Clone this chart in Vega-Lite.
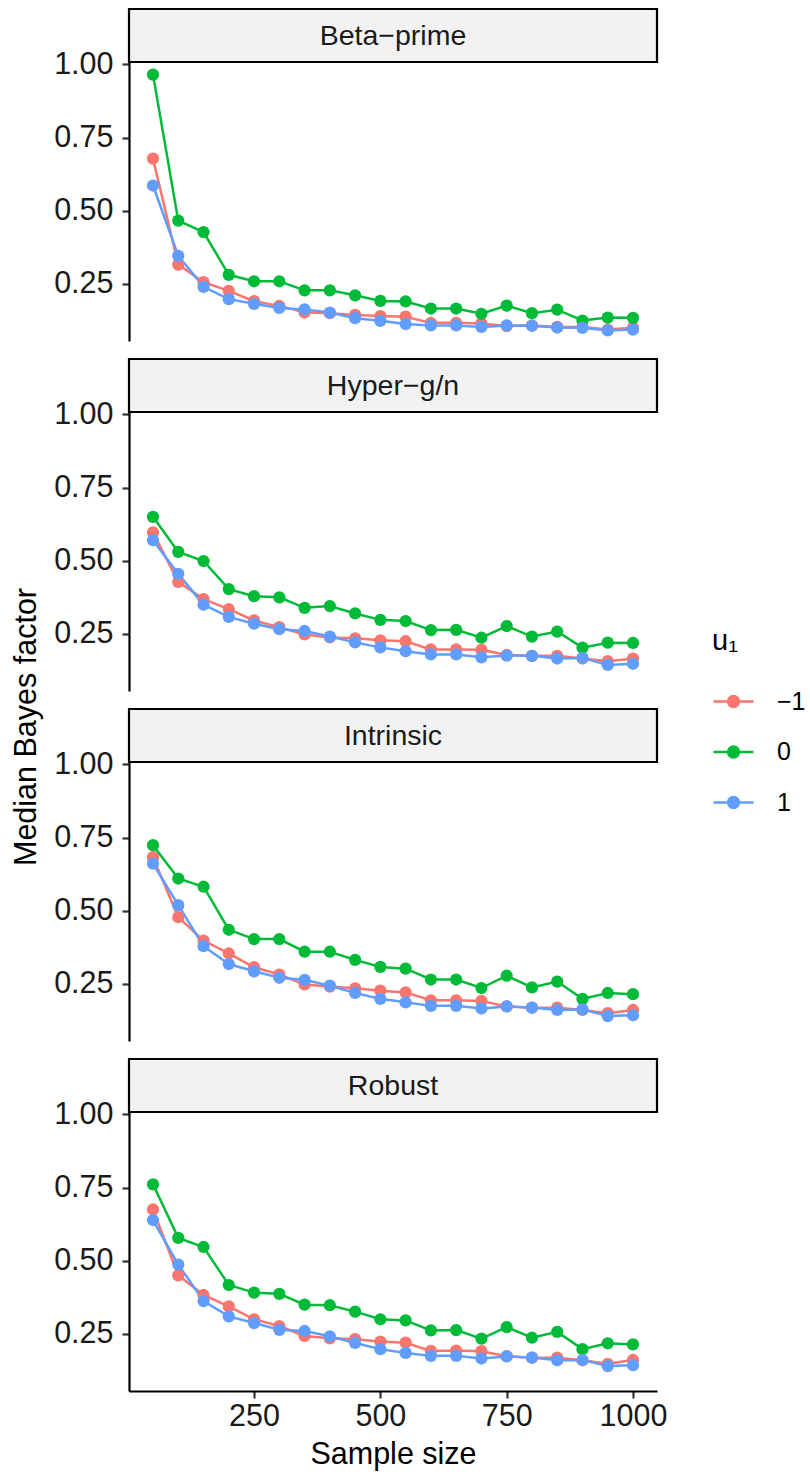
{
  "$schema": "https://vega.github.io/schema/vega-lite/v6.json",
  "autosize": {"type": "pad"},
  "padding": {"left": 12, "top": 7, "right": 5, "bottom": 5},
  "background": "white",
  "title": {"text": "Median Bayes factor", "orient": "left", "anchor": "middle", "frame": "group", "fontSize": 30.5, "fontWeight": "normal", "font": "Liberation Sans", "color": "#000000", "offset": 11, "dx": -718},
  "config": {
    "font": "Liberation Sans",
    "view": {"stroke": null},
    "axis": {
      "grid": false, "domainColor": "#000000", "domainWidth": 2.2,
      "tickColor": "#333333", "tickWidth": 2.2, "tickSize": 7,
      "labelFont": "Liberation Sans", "labelFontSize": 30.5, "labelColor": "#1a1a1a",
      "labelFlush": false, "labelOverlap": false,
      "titleFont": "Liberation Sans", "titleFontSize": 30.5, "titleFontWeight": "normal", "titleColor": "#000000"
    },
    "legend": {
      "labelFont": "Liberation Sans", "titleFont": "Liberation Sans"
    }
  },
  "datasets": {
    "strips": [{"prior": "Beta−prime"}, {"prior": "Hyper−g/n"}, {"prior": "Intrinsic"}, {"prior": "Robust"}],
    "bf": [
      {"prior":"Beta−prime","u":"−1","n":50,"bf":0.678},{"prior":"Beta−prime","u":"−1","n":100,"bf":0.316},{"prior":"Beta−prime","u":"−1","n":150,"bf":0.256},{"prior":"Beta−prime","u":"−1","n":200,"bf":0.226},{"prior":"Beta−prime","u":"−1","n":250,"bf":0.191},{"prior":"Beta−prime","u":"−1","n":300,"bf":0.175},{"prior":"Beta−prime","u":"−1","n":350,"bf":0.153},{"prior":"Beta−prime","u":"−1","n":400,"bf":0.150},{"prior":"Beta−prime","u":"−1","n":450,"bf":0.144},{"prior":"Beta−prime","u":"−1","n":500,"bf":0.140},{"prior":"Beta−prime","u":"−1","n":550,"bf":0.138},{"prior":"Beta−prime","u":"−1","n":600,"bf":0.117},{"prior":"Beta−prime","u":"−1","n":650,"bf":0.117},{"prior":"Beta−prime","u":"−1","n":700,"bf":0.115},{"prior":"Beta−prime","u":"−1","n":750,"bf":0.106},{"prior":"Beta−prime","u":"−1","n":800,"bf":0.108},{"prior":"Beta−prime","u":"−1","n":850,"bf":0.103},{"prior":"Beta−prime","u":"−1","n":900,"bf":0.103},{"prior":"Beta−prime","u":"−1","n":950,"bf":0.094},{"prior":"Beta−prime","u":"−1","n":1000,"bf":0.100},
      {"prior":"Beta−prime","u":"0","n":50,"bf":0.965},{"prior":"Beta−prime","u":"0","n":100,"bf":0.466},{"prior":"Beta−prime","u":"0","n":150,"bf":0.427},{"prior":"Beta−prime","u":"0","n":200,"bf":0.281},{"prior":"Beta−prime","u":"0","n":250,"bf":0.259},{"prior":"Beta−prime","u":"0","n":300,"bf":0.259},{"prior":"Beta−prime","u":"0","n":350,"bf":0.228},{"prior":"Beta−prime","u":"0","n":400,"bf":0.228},{"prior":"Beta−prime","u":"0","n":450,"bf":0.211},{"prior":"Beta−prime","u":"0","n":500,"bf":0.192},{"prior":"Beta−prime","u":"0","n":550,"bf":0.190},{"prior":"Beta−prime","u":"0","n":600,"bf":0.166},{"prior":"Beta−prime","u":"0","n":650,"bf":0.166},{"prior":"Beta−prime","u":"0","n":700,"bf":0.148},{"prior":"Beta−prime","u":"0","n":750,"bf":0.176},{"prior":"Beta−prime","u":"0","n":800,"bf":0.150},{"prior":"Beta−prime","u":"0","n":850,"bf":0.162},{"prior":"Beta−prime","u":"0","n":900,"bf":0.125},{"prior":"Beta−prime","u":"0","n":950,"bf":0.135},{"prior":"Beta−prime","u":"0","n":1000,"bf":0.134},
      {"prior":"Beta−prime","u":"1","n":50,"bf":0.586},{"prior":"Beta−prime","u":"1","n":100,"bf":0.346},{"prior":"Beta−prime","u":"1","n":150,"bf":0.240},{"prior":"Beta−prime","u":"1","n":200,"bf":0.198},{"prior":"Beta−prime","u":"1","n":250,"bf":0.182},{"prior":"Beta−prime","u":"1","n":300,"bf":0.168},{"prior":"Beta−prime","u":"1","n":350,"bf":0.163},{"prior":"Beta−prime","u":"1","n":400,"bf":0.152},{"prior":"Beta−prime","u":"1","n":450,"bf":0.133},{"prior":"Beta−prime","u":"1","n":500,"bf":0.124},{"prior":"Beta−prime","u":"1","n":550,"bf":0.113},{"prior":"Beta−prime","u":"1","n":600,"bf":0.108},{"prior":"Beta−prime","u":"1","n":650,"bf":0.108},{"prior":"Beta−prime","u":"1","n":700,"bf":0.103},{"prior":"Beta−prime","u":"1","n":750,"bf":0.108},{"prior":"Beta−prime","u":"1","n":800,"bf":0.107},{"prior":"Beta−prime","u":"1","n":850,"bf":0.101},{"prior":"Beta−prime","u":"1","n":900,"bf":0.100},{"prior":"Beta−prime","u":"1","n":950,"bf":0.091},{"prior":"Beta−prime","u":"1","n":1000,"bf":0.094},
      {"prior":"Hyper−g/n","u":"−1","n":50,"bf":0.597},{"prior":"Hyper−g/n","u":"−1","n":100,"bf":0.428},{"prior":"Hyper−g/n","u":"−1","n":150,"bf":0.369},{"prior":"Hyper−g/n","u":"−1","n":200,"bf":0.335},{"prior":"Hyper−g/n","u":"−1","n":250,"bf":0.296},{"prior":"Hyper−g/n","u":"−1","n":300,"bf":0.273},{"prior":"Hyper−g/n","u":"−1","n":350,"bf":0.248},{"prior":"Hyper−g/n","u":"−1","n":400,"bf":0.238},{"prior":"Hyper−g/n","u":"−1","n":450,"bf":0.235},{"prior":"Hyper−g/n","u":"−1","n":500,"bf":0.228},{"prior":"Hyper−g/n","u":"−1","n":550,"bf":0.225},{"prior":"Hyper−g/n","u":"−1","n":600,"bf":0.197},{"prior":"Hyper−g/n","u":"−1","n":650,"bf":0.197},{"prior":"Hyper−g/n","u":"−1","n":700,"bf":0.196},{"prior":"Hyper−g/n","u":"−1","n":750,"bf":0.178},{"prior":"Hyper−g/n","u":"−1","n":800,"bf":0.175},{"prior":"Hyper−g/n","u":"−1","n":850,"bf":0.175},{"prior":"Hyper−g/n","u":"−1","n":900,"bf":0.166},{"prior":"Hyper−g/n","u":"−1","n":950,"bf":0.157},{"prior":"Hyper−g/n","u":"−1","n":1000,"bf":0.166},
      {"prior":"Hyper−g/n","u":"0","n":50,"bf":0.650},{"prior":"Hyper−g/n","u":"0","n":100,"bf":0.530},{"prior":"Hyper−g/n","u":"0","n":150,"bf":0.499},{"prior":"Hyper−g/n","u":"0","n":200,"bf":0.403},{"prior":"Hyper−g/n","u":"0","n":250,"bf":0.379},{"prior":"Hyper−g/n","u":"0","n":300,"bf":0.375},{"prior":"Hyper−g/n","u":"0","n":350,"bf":0.339},{"prior":"Hyper−g/n","u":"0","n":400,"bf":0.345},{"prior":"Hyper−g/n","u":"0","n":450,"bf":0.320},{"prior":"Hyper−g/n","u":"0","n":500,"bf":0.298},{"prior":"Hyper−g/n","u":"0","n":550,"bf":0.294},{"prior":"Hyper−g/n","u":"0","n":600,"bf":0.263},{"prior":"Hyper−g/n","u":"0","n":650,"bf":0.264},{"prior":"Hyper−g/n","u":"0","n":700,"bf":0.237},{"prior":"Hyper−g/n","u":"0","n":750,"bf":0.277},{"prior":"Hyper−g/n","u":"0","n":800,"bf":0.241},{"prior":"Hyper−g/n","u":"0","n":850,"bf":0.258},{"prior":"Hyper−g/n","u":"0","n":900,"bf":0.203},{"prior":"Hyper−g/n","u":"0","n":950,"bf":0.220},{"prior":"Hyper−g/n","u":"0","n":1000,"bf":0.219},
      {"prior":"Hyper−g/n","u":"1","n":50,"bf":0.570},{"prior":"Hyper−g/n","u":"1","n":100,"bf":0.455},{"prior":"Hyper−g/n","u":"1","n":150,"bf":0.350},{"prior":"Hyper−g/n","u":"1","n":200,"bf":0.308},{"prior":"Hyper−g/n","u":"1","n":250,"bf":0.285},{"prior":"Hyper−g/n","u":"1","n":300,"bf":0.266},{"prior":"Hyper−g/n","u":"1","n":350,"bf":0.260},{"prior":"Hyper−g/n","u":"1","n":400,"bf":0.241},{"prior":"Hyper−g/n","u":"1","n":450,"bf":0.221},{"prior":"Hyper−g/n","u":"1","n":500,"bf":0.204},{"prior":"Hyper−g/n","u":"1","n":550,"bf":0.191},{"prior":"Hyper−g/n","u":"1","n":600,"bf":0.180},{"prior":"Hyper−g/n","u":"1","n":650,"bf":0.180},{"prior":"Hyper−g/n","u":"1","n":700,"bf":0.170},{"prior":"Hyper−g/n","u":"1","n":750,"bf":0.176},{"prior":"Hyper−g/n","u":"1","n":800,"bf":0.175},{"prior":"Hyper−g/n","u":"1","n":850,"bf":0.166},{"prior":"Hyper−g/n","u":"1","n":900,"bf":0.168},{"prior":"Hyper−g/n","u":"1","n":950,"bf":0.144},{"prior":"Hyper−g/n","u":"1","n":1000,"bf":0.148},
      {"prior":"Intrinsic","u":"−1","n":50,"bf":0.683},{"prior":"Intrinsic","u":"−1","n":100,"bf":0.478},{"prior":"Intrinsic","u":"−1","n":150,"bf":0.398},{"prior":"Intrinsic","u":"−1","n":200,"bf":0.354},{"prior":"Intrinsic","u":"−1","n":250,"bf":0.307},{"prior":"Intrinsic","u":"−1","n":300,"bf":0.282},{"prior":"Intrinsic","u":"−1","n":350,"bf":0.248},{"prior":"Intrinsic","u":"−1","n":400,"bf":0.241},{"prior":"Intrinsic","u":"−1","n":450,"bf":0.235},{"prior":"Intrinsic","u":"−1","n":500,"bf":0.227},{"prior":"Intrinsic","u":"−1","n":550,"bf":0.221},{"prior":"Intrinsic","u":"−1","n":600,"bf":0.194},{"prior":"Intrinsic","u":"−1","n":650,"bf":0.194},{"prior":"Intrinsic","u":"−1","n":700,"bf":0.192},{"prior":"Intrinsic","u":"−1","n":750,"bf":0.173},{"prior":"Intrinsic","u":"−1","n":800,"bf":0.169},{"prior":"Intrinsic","u":"−1","n":850,"bf":0.169},{"prior":"Intrinsic","u":"−1","n":900,"bf":0.161},{"prior":"Intrinsic","u":"−1","n":950,"bf":0.150},{"prior":"Intrinsic","u":"−1","n":1000,"bf":0.161},
      {"prior":"Intrinsic","u":"0","n":50,"bf":0.724},{"prior":"Intrinsic","u":"0","n":100,"bf":0.610},{"prior":"Intrinsic","u":"0","n":150,"bf":0.582},{"prior":"Intrinsic","u":"0","n":200,"bf":0.435},{"prior":"Intrinsic","u":"0","n":250,"bf":0.403},{"prior":"Intrinsic","u":"0","n":300,"bf":0.403},{"prior":"Intrinsic","u":"0","n":350,"bf":0.360},{"prior":"Intrinsic","u":"0","n":400,"bf":0.360},{"prior":"Intrinsic","u":"0","n":450,"bf":0.332},{"prior":"Intrinsic","u":"0","n":500,"bf":0.308},{"prior":"Intrinsic","u":"0","n":550,"bf":0.302},{"prior":"Intrinsic","u":"0","n":600,"bf":0.265},{"prior":"Intrinsic","u":"0","n":650,"bf":0.265},{"prior":"Intrinsic","u":"0","n":700,"bf":0.236},{"prior":"Intrinsic","u":"0","n":750,"bf":0.278},{"prior":"Intrinsic","u":"0","n":800,"bf":0.238},{"prior":"Intrinsic","u":"0","n":850,"bf":0.258},{"prior":"Intrinsic","u":"0","n":900,"bf":0.199},{"prior":"Intrinsic","u":"0","n":950,"bf":0.219},{"prior":"Intrinsic","u":"0","n":1000,"bf":0.215},
      {"prior":"Intrinsic","u":"1","n":50,"bf":0.661},{"prior":"Intrinsic","u":"1","n":100,"bf":0.519},{"prior":"Intrinsic","u":"1","n":150,"bf":0.379},{"prior":"Intrinsic","u":"1","n":200,"bf":0.318},{"prior":"Intrinsic","u":"1","n":250,"bf":0.293},{"prior":"Intrinsic","u":"1","n":300,"bf":0.271},{"prior":"Intrinsic","u":"1","n":350,"bf":0.264},{"prior":"Intrinsic","u":"1","n":400,"bf":0.244},{"prior":"Intrinsic","u":"1","n":450,"bf":0.219},{"prior":"Intrinsic","u":"1","n":500,"bf":0.199},{"prior":"Intrinsic","u":"1","n":550,"bf":0.187},{"prior":"Intrinsic","u":"1","n":600,"bf":0.175},{"prior":"Intrinsic","u":"1","n":650,"bf":0.175},{"prior":"Intrinsic","u":"1","n":700,"bf":0.166},{"prior":"Intrinsic","u":"1","n":750,"bf":0.173},{"prior":"Intrinsic","u":"1","n":800,"bf":0.169},{"prior":"Intrinsic","u":"1","n":850,"bf":0.161},{"prior":"Intrinsic","u":"1","n":900,"bf":0.163},{"prior":"Intrinsic","u":"1","n":950,"bf":0.140},{"prior":"Intrinsic","u":"1","n":1000,"bf":0.143},
      {"prior":"Robust","u":"−1","n":50,"bf":0.675},{"prior":"Robust","u":"−1","n":100,"bf":0.450},{"prior":"Robust","u":"−1","n":150,"bf":0.383},{"prior":"Robust","u":"−1","n":200,"bf":0.344},{"prior":"Robust","u":"−1","n":250,"bf":0.300},{"prior":"Robust","u":"−1","n":300,"bf":0.277},{"prior":"Robust","u":"−1","n":350,"bf":0.243},{"prior":"Robust","u":"−1","n":400,"bf":0.235},{"prior":"Robust","u":"−1","n":450,"bf":0.232},{"prior":"Robust","u":"−1","n":500,"bf":0.224},{"prior":"Robust","u":"−1","n":550,"bf":0.220},{"prior":"Robust","u":"−1","n":600,"bf":0.192},{"prior":"Robust","u":"−1","n":650,"bf":0.193},{"prior":"Robust","u":"−1","n":700,"bf":0.191},{"prior":"Robust","u":"−1","n":750,"bf":0.174},{"prior":"Robust","u":"−1","n":800,"bf":0.169},{"prior":"Robust","u":"−1","n":850,"bf":0.169},{"prior":"Robust","u":"−1","n":900,"bf":0.160},{"prior":"Robust","u":"−1","n":950,"bf":0.148},{"prior":"Robust","u":"−1","n":1000,"bf":0.161},
      {"prior":"Robust","u":"0","n":50,"bf":0.761},{"prior":"Robust","u":"0","n":100,"bf":0.578},{"prior":"Robust","u":"0","n":150,"bf":0.547},{"prior":"Robust","u":"0","n":200,"bf":0.417},{"prior":"Robust","u":"0","n":250,"bf":0.391},{"prior":"Robust","u":"0","n":300,"bf":0.387},{"prior":"Robust","u":"0","n":350,"bf":0.350},{"prior":"Robust","u":"0","n":400,"bf":0.348},{"prior":"Robust","u":"0","n":450,"bf":0.326},{"prior":"Robust","u":"0","n":500,"bf":0.300},{"prior":"Robust","u":"0","n":550,"bf":0.296},{"prior":"Robust","u":"0","n":600,"bf":0.262},{"prior":"Robust","u":"0","n":650,"bf":0.263},{"prior":"Robust","u":"0","n":700,"bf":0.234},{"prior":"Robust","u":"0","n":750,"bf":0.273},{"prior":"Robust","u":"0","n":800,"bf":0.237},{"prior":"Robust","u":"0","n":850,"bf":0.257},{"prior":"Robust","u":"0","n":900,"bf":0.198},{"prior":"Robust","u":"0","n":950,"bf":0.218},{"prior":"Robust","u":"0","n":1000,"bf":0.214},
      {"prior":"Robust","u":"1","n":50,"bf":0.639},{"prior":"Robust","u":"1","n":100,"bf":0.487},{"prior":"Robust","u":"1","n":150,"bf":0.362},{"prior":"Robust","u":"1","n":200,"bf":0.310},{"prior":"Robust","u":"1","n":250,"bf":0.287},{"prior":"Robust","u":"1","n":300,"bf":0.264},{"prior":"Robust","u":"1","n":350,"bf":0.260},{"prior":"Robust","u":"1","n":400,"bf":0.242},{"prior":"Robust","u":"1","n":450,"bf":0.219},{"prior":"Robust","u":"1","n":500,"bf":0.198},{"prior":"Robust","u":"1","n":550,"bf":0.185},{"prior":"Robust","u":"1","n":600,"bf":0.175},{"prior":"Robust","u":"1","n":650,"bf":0.175},{"prior":"Robust","u":"1","n":700,"bf":0.166},{"prior":"Robust","u":"1","n":750,"bf":0.173},{"prior":"Robust","u":"1","n":800,"bf":0.169},{"prior":"Robust","u":"1","n":850,"bf":0.160},{"prior":"Robust","u":"1","n":900,"bf":0.161},{"prior":"Robust","u":"1","n":950,"bf":0.140},{"prior":"Robust","u":"1","n":1000,"bf":0.143}
    ]
  },
  "spacing": 16,
  "vconcat": [
    {"spacing": 0, "bounds": "flush", "vconcat": [
      {"data": {"name": "strips"}, "transform": [{"filter": {"field": "prior", "equal": "Beta−prime"}}], "width": 528, "height": 53,
       "view": {"fill": "#F2F2F2", "stroke": "#000000", "strokeWidth": 2.2},
       "mark": {"type": "text", "fontSize": 28.5, "color": "#1a1a1a", "font": "Liberation Sans"},
       "encoding": {"text": {"field": "prior"}}},
      {"data": {"name": "bf"}, "transform": [{"filter": {"field": "prior", "equal": "Beta−prime"}}], "width": 528, "height": 279,
       "encoding": {
         "x": {"field": "n", "type": "quantitative", "scale": {"domain": [2.5, 1047.5], "nice": false, "zero": false}, "axis": null},
         "y": {"field": "bf", "type": "quantitative", "scale": {"domain": [0.055, 1.008], "nice": false, "zero": false}, "axis": {"values": [0.25, 0.5, 0.75, 1], "format": ".2f", "title": null, "labelPadding": 9}},
         "color": {"field": "u", "type": "nominal", "scale": {"domain": ["−1", "0", "1"], "range": ["#F8766D", "#00BA38", "#619CFF"]},
           "legend": {"title": "u₁", "orient": "none", "legendX": 583, "legendY": 618, "titleFontSize": 29, "titleFontWeight": "normal", "titleColor": "#000000", "titlePadding": 24, "labelFontSize": 25, "labelColor": "#000000", "labelOffset": 22, "rowPadding": 15.5, "symbolSize": 1600, "symbolStrokeWidth": 2.5, "symbolType": "M-1,0L1,0M0.27,0A0.27,0.27,0,1,1,-0.27,0A0.27,0.27,0,1,1,0.27,0Z",
             "encode": {"symbols": {"update": {"fill": {"scale": "color", "field": "value"}, "stroke": {"scale": "color", "field": "value"}, "opacity": {"value": 1}, "strokeWidth": {"value": 2.5}}}}}}
       },
       "layer": [
         {"mark": {"type": "line", "strokeWidth": 2.5}},
         {"mark": {"type": "point", "filled": true, "size": 150, "opacity": 1}}
       ]}
    ]},
    {"spacing": 0, "bounds": "flush", "vconcat": [
      {"data": {"name": "strips"}, "transform": [{"filter": {"field": "prior", "equal": "Hyper−g/n"}}], "width": 528, "height": 53,
       "view": {"fill": "#F2F2F2", "stroke": "#000000", "strokeWidth": 2.2},
       "mark": {"type": "text", "fontSize": 28.5, "color": "#1a1a1a", "font": "Liberation Sans"},
       "encoding": {"text": {"field": "prior"}}},
      {"data": {"name": "bf"}, "transform": [{"filter": {"field": "prior", "equal": "Hyper−g/n"}}], "width": 528, "height": 279,
       "encoding": {
         "x": {"field": "n", "type": "quantitative", "scale": {"domain": [2.5, 1047.5], "nice": false, "zero": false}, "axis": null},
         "y": {"field": "bf", "type": "quantitative", "scale": {"domain": [0.055, 1.008], "nice": false, "zero": false}, "axis": {"values": [0.25, 0.5, 0.75, 1], "format": ".2f", "title": null, "labelPadding": 9}},
         "color": {"field": "u", "type": "nominal", "scale": {"domain": ["−1", "0", "1"], "range": ["#F8766D", "#00BA38", "#619CFF"]},
           "legend": {"title": "u₁", "orient": "none", "legendX": 583, "legendY": 618, "titleFontSize": 29, "titleFontWeight": "normal", "titleColor": "#000000", "titlePadding": 24, "labelFontSize": 25, "labelColor": "#000000", "labelOffset": 22, "rowPadding": 15.5, "symbolSize": 1600, "symbolStrokeWidth": 2.5, "symbolType": "M-1,0L1,0M0.27,0A0.27,0.27,0,1,1,-0.27,0A0.27,0.27,0,1,1,0.27,0Z",
             "encode": {"symbols": {"update": {"fill": {"scale": "color", "field": "value"}, "stroke": {"scale": "color", "field": "value"}, "opacity": {"value": 1}, "strokeWidth": {"value": 2.5}}}}}}
       },
       "layer": [
         {"mark": {"type": "line", "strokeWidth": 2.5}},
         {"mark": {"type": "point", "filled": true, "size": 150, "opacity": 1}}
       ]}
    ]},
    {"spacing": 0, "bounds": "flush", "vconcat": [
      {"data": {"name": "strips"}, "transform": [{"filter": {"field": "prior", "equal": "Intrinsic"}}], "width": 528, "height": 53,
       "view": {"fill": "#F2F2F2", "stroke": "#000000", "strokeWidth": 2.2},
       "mark": {"type": "text", "fontSize": 28.5, "color": "#1a1a1a", "font": "Liberation Sans"},
       "encoding": {"text": {"field": "prior"}}},
      {"data": {"name": "bf"}, "transform": [{"filter": {"field": "prior", "equal": "Intrinsic"}}], "width": 528, "height": 279,
       "encoding": {
         "x": {"field": "n", "type": "quantitative", "scale": {"domain": [2.5, 1047.5], "nice": false, "zero": false}, "axis": null},
         "y": {"field": "bf", "type": "quantitative", "scale": {"domain": [0.055, 1.008], "nice": false, "zero": false}, "axis": {"values": [0.25, 0.5, 0.75, 1], "format": ".2f", "title": null, "labelPadding": 9}},
         "color": {"field": "u", "type": "nominal", "scale": {"domain": ["−1", "0", "1"], "range": ["#F8766D", "#00BA38", "#619CFF"]},
           "legend": {"title": "u₁", "orient": "none", "legendX": 583, "legendY": 618, "titleFontSize": 29, "titleFontWeight": "normal", "titleColor": "#000000", "titlePadding": 24, "labelFontSize": 25, "labelColor": "#000000", "labelOffset": 22, "rowPadding": 15.5, "symbolSize": 1600, "symbolStrokeWidth": 2.5, "symbolType": "M-1,0L1,0M0.27,0A0.27,0.27,0,1,1,-0.27,0A0.27,0.27,0,1,1,0.27,0Z",
             "encode": {"symbols": {"update": {"fill": {"scale": "color", "field": "value"}, "stroke": {"scale": "color", "field": "value"}, "opacity": {"value": 1}, "strokeWidth": {"value": 2.5}}}}}}
       },
       "layer": [
         {"mark": {"type": "line", "strokeWidth": 2.5}},
         {"mark": {"type": "point", "filled": true, "size": 150, "opacity": 1}}
       ]}
    ]},
    {"spacing": 0, "bounds": "flush", "vconcat": [
      {"data": {"name": "strips"}, "transform": [{"filter": {"field": "prior", "equal": "Robust"}}], "width": 528, "height": 53,
       "view": {"fill": "#F2F2F2", "stroke": "#000000", "strokeWidth": 2.2},
       "mark": {"type": "text", "fontSize": 28.5, "color": "#1a1a1a", "font": "Liberation Sans"},
       "encoding": {"text": {"field": "prior"}}},
      {"data": {"name": "bf"}, "transform": [{"filter": {"field": "prior", "equal": "Robust"}}], "width": 528, "height": 279,
       "encoding": {
         "x": {"field": "n", "type": "quantitative", "scale": {"domain": [2.5, 1047.5], "nice": false, "zero": false}, "axis": {"values": [250, 500, 750, 1000], "format": "d", "title": "Sample size", "labelPadding": 3, "titlePadding": 8}},
         "y": {"field": "bf", "type": "quantitative", "scale": {"domain": [0.055, 1.008], "nice": false, "zero": false}, "axis": {"values": [0.25, 0.5, 0.75, 1], "format": ".2f", "title": null, "labelPadding": 9}},
         "color": {"field": "u", "type": "nominal", "scale": {"domain": ["−1", "0", "1"], "range": ["#F8766D", "#00BA38", "#619CFF"]},
           "legend": {"title": "u₁", "orient": "none", "legendX": 583, "legendY": 618, "titleFontSize": 29, "titleFontWeight": "normal", "titleColor": "#000000", "titlePadding": 24, "labelFontSize": 25, "labelColor": "#000000", "labelOffset": 22, "rowPadding": 15.5, "symbolSize": 1600, "symbolStrokeWidth": 2.5, "symbolType": "M-1,0L1,0M0.27,0A0.27,0.27,0,1,1,-0.27,0A0.27,0.27,0,1,1,0.27,0Z",
             "encode": {"symbols": {"update": {"fill": {"scale": "color", "field": "value"}, "stroke": {"scale": "color", "field": "value"}, "opacity": {"value": 1}, "strokeWidth": {"value": 2.5}}}}}}
       },
       "layer": [
         {"mark": {"type": "line", "strokeWidth": 2.5}},
         {"mark": {"type": "point", "filled": true, "size": 150, "opacity": 1}}
       ]}
    ]}
  ]
}
